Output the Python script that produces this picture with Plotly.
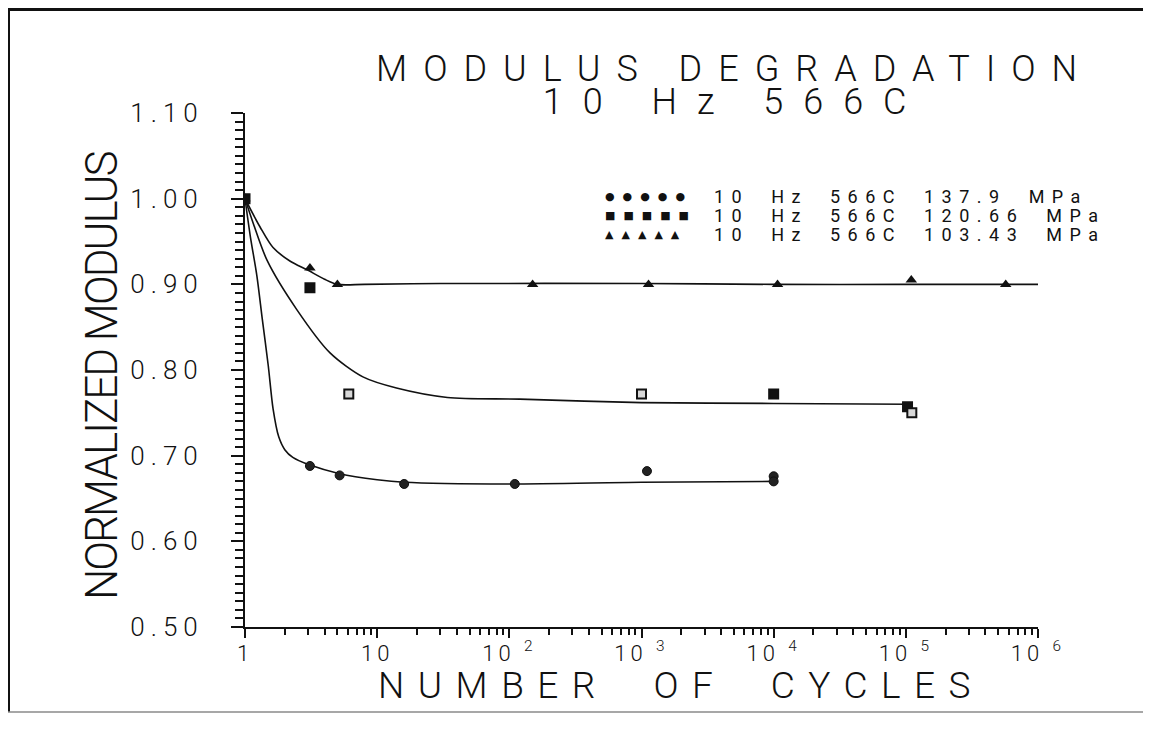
import plotly.graph_objects as go

# ---------------- data ----------------
# 137.9 MPa (circles)
circle_n = [1, 3.1, 5.2, 16, 110, 1100, 10000, 10000]
circle_v = [1.00, 0.688, 0.677, 0.667, 0.667, 0.682, 0.676, 0.670]
circle_fit_n = [1, 1.1, 1.23, 1.35, 1.5, 1.63, 1.8, 2.0, 2.3, 3.1, 5.2, 10, 16, 100, 1000, 10000]
circle_fit_v = [1.00, 0.955, 0.91, 0.86, 0.805, 0.755, 0.722, 0.707, 0.698, 0.689, 0.679, 0.672, 0.669, 0.667, 0.669, 0.670]

# 120.66 MPa (squares)
square_n = [1, 3.1, 6.1, 1000, 10000, 103000, 111000]
square_v = [1.00, 0.896, 0.772, 0.772, 0.772, 0.757, 0.750]
square_filled = [True, True, False, False, True, True, False]
square_fit_n = [1, 1.15, 1.47, 2.48, 4.4, 7.8, 14, 34, 120, 1000, 10000, 105000]
square_fit_v = [1.00, 0.972, 0.928, 0.870, 0.820, 0.792, 0.779, 0.768, 0.766, 0.762, 0.761, 0.760]

# 103.43 MPa (triangles)
tri_n = [1, 3.1, 5.0, 150, 1130, 10700, 110000, 570000]
tri_v = [1.00, 0.919, 0.900, 0.900, 0.900, 0.900, 0.905, 0.900]
tri_fit_n = [1, 1.3, 1.63, 2.2, 2.95, 4.0, 5.0, 8, 30, 1000, 10000, 100000, 1000000]
tri_fit_v = [1.00, 0.967, 0.943, 0.927, 0.917, 0.906, 0.900, 0.900, 0.901, 0.901, 0.900, 0.900, 0.900]

legend_labels = ["10 Hz 566C 137.9 MPa", "10 Hz 566C 120.66 MPa", "10 Hz 566C 103.43 MPa"]
legend_glyphs = ["●●●●●", "■■■■■", "▲▲▲▲▲"]

y_tick_text = ["0.50", "0.60", "0.70", "0.80", "0.90", "1.00", "1.10"]
x_tick_text = ["1", "10", "10 <sup>2</sup>", "10 <sup>3</sup>", "10 <sup>4</sup>", "10 <sup>5</sup>", "10 <sup>6</sup>"]
x_tick_default = ["1", "10"] + [f"10<sup>{p}</sup>" for p in range(2, 7)]

title_1 = "MODULUS DEGRADATION"
title_2 = "10 Hz 566C"
x_title = "NUMBER OF CYCLES"
y_title = "NORMALIZED MODULUS"

FONT = "Roboto"
INK = "#111111"


def spaced(t, ls, ws=None, size=None):
    st = f"letter-spacing:{ls}px"
    if ws is not None:
        st += f";word-spacing:{ws}px"
    if size is not None:
        st += f";font-size:{size}px"
    return f'<span style="{st}">{t}</span>'


fig = go.Figure()

line_style = dict(color=INK, width=1.6, shape="spline", smoothing=0.8)
fig.add_trace(go.Scatter(x=circle_fit_n, y=circle_fit_v, mode="lines", line=line_style, showlegend=False))
fig.add_trace(go.Scatter(x=square_fit_n, y=square_fit_v, mode="lines", line=line_style, showlegend=False))
fig.add_trace(go.Scatter(x=tri_fit_n, y=tri_fit_v, mode="lines", line=line_style, showlegend=False))

fig.add_trace(go.Scatter(x=circle_n, y=circle_v, mode="markers",
                         marker=dict(symbol="circle", size=9, color="#222222",
                                     line=dict(color=INK, width=1)), showlegend=False))
fig.add_trace(go.Scatter(x=tri_n, y=tri_v, mode="markers",
                         marker=dict(symbol="triangle-up", size=10, color=INK,
                                     line=dict(color=INK, width=0)), showlegend=False))
fig.add_trace(go.Scatter(x=square_n, y=square_v, mode="markers",
                         marker=dict(symbol="square", size=9,
                                     color=[INK if f else "#d8d8d8" for f in square_filled],
                                     line=dict(color=INK, width=2)), showlegend=False))

# page is drawn with an 8px body margin: work in page pixels, convert to figure
OFF = 8
W, H = 1151, 730
PL, PR, PT, PB = 245, 1038, 113, 627          # plot area in page pixels
L, T = PL - OFF, PT - OFF
R = W - (PR - OFF)
B = H - (PB - OFF)
PW, PH = PR - PL, PB - PT


def px(xp):
    return (xp - PL) / PW


def py(yp):
    return (PB - yp) / PH


ann = []
ann.append(dict(text=spaced(title_1, 16, size=36) + "<br>" + spaced(title_2, 20, size=36),
                x=px(734), y=py(86), xref="paper", yref="paper",
                showarrow=False, xanchor="center", yanchor="middle",
                font=dict(family=FONT, size=25.5, color=INK, weight=300)))
ann.append(dict(text=spaced(x_title, 13.5, 22), x=px(681), y=py(685), xref="paper", yref="paper",
                showarrow=False, xanchor="center", yanchor="middle",
                font=dict(family=FONT, size=37, color=INK, weight=300)))
ann.append(dict(text=spaced(y_title, -2), x=px(102), y=py(376), xref="paper", yref="paper",
                showarrow=False, xanchor="center", yanchor="middle", textangle=-90,
                font=dict(family=FONT, size=44, color=INK, weight=300)))

ann.append(dict(text="<br>".join(spaced(lab, 7.5, 10, size=18) for lab in legend_labels),
                x=px(712), y=py(215), xref="paper", yref="paper",
                showarrow=False, xanchor="left", yanchor="middle", align="left",
                font=dict(family=FONT, size=14.5, color=INK, weight=400)))
ann.append(dict(text="<br>".join(spaced(gl, 8, size=11) for gl in legend_glyphs),
                x=px(603), y=py(215), xref="paper", yref="paper",
                showarrow=False, xanchor="left", yanchor="middle", align="left",
                font=dict(family="DejaVu Sans", size=14.5, color=INK)))

shapes = [
    dict(type="line", xref="paper", yref="paper", x0=px(OFF), x1=px(1160), y0=py(OFF + 1.5), y1=py(OFF + 1.5),
         line=dict(color=INK, width=3)),
    dict(type="line", xref="paper", yref="paper", x0=px(OFF + 1), x1=px(OFF + 1), y0=py(OFF), y1=py(712),
         line=dict(color=INK, width=2)),
    dict(type="line", xref="paper", yref="paper", x0=px(OFF), x1=px(1160), y0=py(712), y1=py(712),
         line=dict(color="#8a8a8a", width=1.5)),
]

fig.update_layout(
    width=W, height=H, autosize=False,
    margin=dict(l=L, r=R, t=T, b=B, pad=0),
    paper_bgcolor="white", plot_bgcolor="white",
    annotations=ann, shapes=shapes,
    font=dict(family=FONT, color=INK),
    xaxis=dict(
        type="log", range=[0, 6], showgrid=False, zeroline=False,
        showline=True, linecolor=INK, linewidth=2,
        tickmode="linear", tick0=0, dtick=1,
        exponentformat="power", showexponent="all",
        labelalias={k: spaced(t, 4) for k, t in zip(x_tick_default, x_tick_text)},
        ticks="outside", ticklen=9, tickwidth=1.8, tickcolor=INK,
        tickfont=dict(family=FONT, size=17.6, color=INK, weight=300),
        ticklabelstandoff=-3,
        minor=dict(dtick="D1", ticks="outside", ticklen=6, tickwidth=1.6, tickcolor=INK, showgrid=False),
    ),
    yaxis=dict(
        range=[0.5, 1.1001], showgrid=False, zeroline=False,
        showline=True, linecolor=INK, linewidth=2,
        tickmode="linear", tick0=0.5, dtick=0.1, tickformat=".2f",
        labelalias={t: spaced(t, 6) for t in y_tick_text},
        ticks="outside", ticklen=12, tickwidth=1.8, tickcolor=INK,
        tickfont=dict(family=FONT, size=26, color=INK, weight=300),
        ticklabelstandoff=22,
        minor=dict(tick0=0.5, dtick=0.01, ticks="outside", ticklen=8, tickwidth=1.6, tickcolor=INK, showgrid=False),
    ),
)

fig.write_html("out.html")
